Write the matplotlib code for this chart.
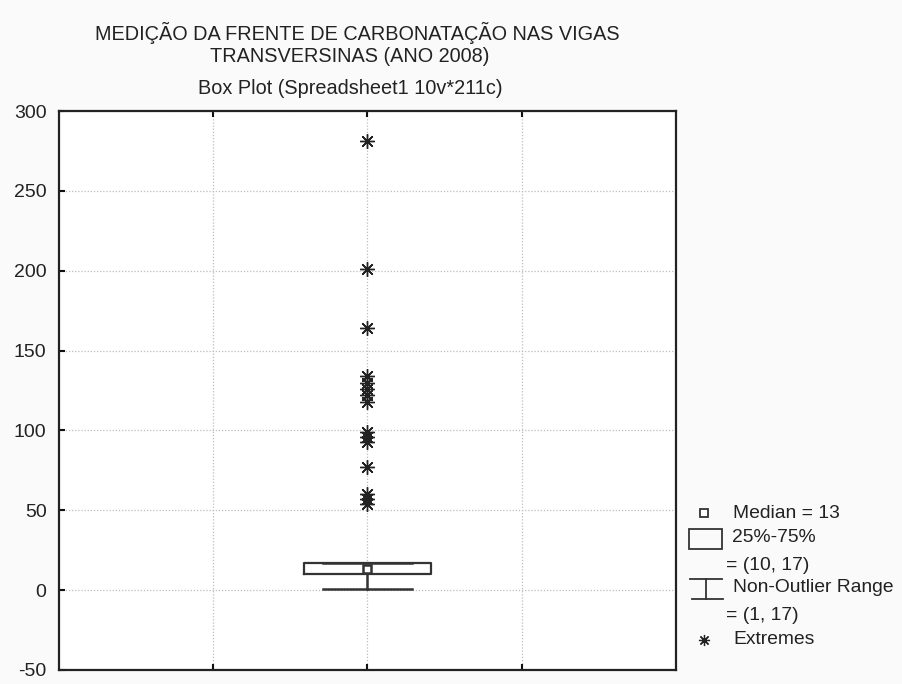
import matplotlib
matplotlib.use("Agg")
import matplotlib.pyplot as plt
from matplotlib.patches import Rectangle
from matplotlib.lines import Line2D

plt.rcParams['font.family'] = ['Liberation Sans', 'DejaVu Sans']

# Summary statistics of the carbonation depth measurements
median_value = 13
quartiles = [10, 17]
non_outlier_range = [1, 17]
extremes = [281, 201, 164, 134, 130, 126, 122, 118, 99, 96, 93, 77, 60, 57, 54]

title_lines = ["MEDIÇÃO DA FRENTE DE CARBONATAÇÃO NAS VIGAS",
               "TRANSVERSINAS (ANO 2008)"]
subtitle = "Box Plot (Spreadsheet1 10v*211c)"
y_ticks = [-50, 0, 50, 100, 150, 200, 250, 300]

W, H = 903, 684
fig = plt.figure(figsize=(W / 100, H / 100), dpi=100, facecolor='#fafafa')
ax = fig.add_axes([59 / W, 1 - 670 / H, 617 / W, 559 / H], facecolor='white')

edge = '#333333'
stats = [dict(med=median_value, q1=quartiles[0], q3=quartiles[1],
              whislo=non_outlier_range[0], whishi=non_outlier_range[1],
              fliers=extremes)]
ax.bxp(stats, positions=[2], widths=0.82, capwidths=0.58,
       showfliers=True, patch_artist=False,
       boxprops=dict(color=edge, linewidth=1.6),
       whiskerprops=dict(color=edge, linewidth=1.8),
       capprops=dict(color=edge, linewidth=1.8),
       medianprops=dict(linestyle='none'),
       flierprops=dict(marker=(8, 2, 0), markersize=10.5, markeredgewidth=1.0,
                       markeredgecolor='#222222', linestyle='none'),
       zorder=3)
ax.plot([2], [median_value], marker='s', markersize=6, markerfacecolor='white',
        markeredgecolor=edge, markeredgewidth=1.8, linestyle='none', zorder=4)

ax.set_xlim(0, 4)
ax.set_ylim(-50, 300)
ax.set_xticks([1, 2, 3])
ax.set_xticklabels([])
ax.set_yticks(y_ticks)
ax.set_yticklabels([str(v) for v in y_ticks])
ax.tick_params(axis='x', direction='in', length=4, width=1.5, top=True, colors='#111111')
ax.tick_params(axis='y', direction='in', length=4, width=1.5, labelsize=14,
               pad=9, colors='#111111', labelcolor='#222222')
ax.grid(True, linestyle=(0, (1, 1.5)), color='#bdbdbd', linewidth=0.9, zorder=0)
for sp in ax.spines.values():
    sp.set_linewidth(1.6)
    sp.set_color('#222222')

# Titles
def px(x, y):
    return x / W, 1 - y / H

fig.text(*px(357, 33), title_lines[0], ha='center', va='center', fontsize=14.3, color='#222222')
fig.text(*px(350, 57), title_lines[1], ha='center', va='center', fontsize=14.3, color='#222222')
fig.text(*px(350, 88), subtitle, ha='center', va='center', fontsize=14.3, color='#222222')

# Legend drawn beside the plot
lg = dict(fontsize=13.9, va='center', ha='left', color='#222222')
fig.add_artist(Line2D([704 / W], [1 - 513 / H], marker='s', markersize=6,
                      markerfacecolor='white', markeredgecolor=edge,
                      markeredgewidth=1.3, transform=fig.transFigure))
fig.text(*px(733, 513), f"Median = {median_value}", **lg)
fig.add_artist(Rectangle((689 / W, 1 - 549 / H), 33 / W, 20 / H, fill=False,
                         edgecolor=edge, linewidth=1.3, transform=fig.transFigure))
fig.text(*px(732, 538), "25%-75%", **lg)
fig.text(*px(726, 566), f"= ({quartiles[0]}, {quartiles[1]})", **lg)
for xs, ys in [([690, 722], [579, 579]), ([706, 706], [579, 599]), ([692, 723], [599, 599])]:
    fig.add_artist(Line2D([x / W for x in xs], [1 - y / H for y in ys], color=edge,
                          linewidth=1.3, transform=fig.transFigure))
fig.text(*px(733, 588), "Non-Outlier Range", **lg)
fig.text(*px(726, 615), f"= ({non_outlier_range[0]}, {non_outlier_range[1]})", **lg)
fig.add_artist(Line2D([704 / W], [1 - 640 / H], marker=(8, 2, 0), markersize=8,
                      markeredgecolor='#222222', markeredgewidth=0.9,
                      transform=fig.transFigure))
fig.text(*px(733, 640), "Extremes", **lg)

fig.savefig("out.png", dpi=100, facecolor=fig.get_facecolor())
